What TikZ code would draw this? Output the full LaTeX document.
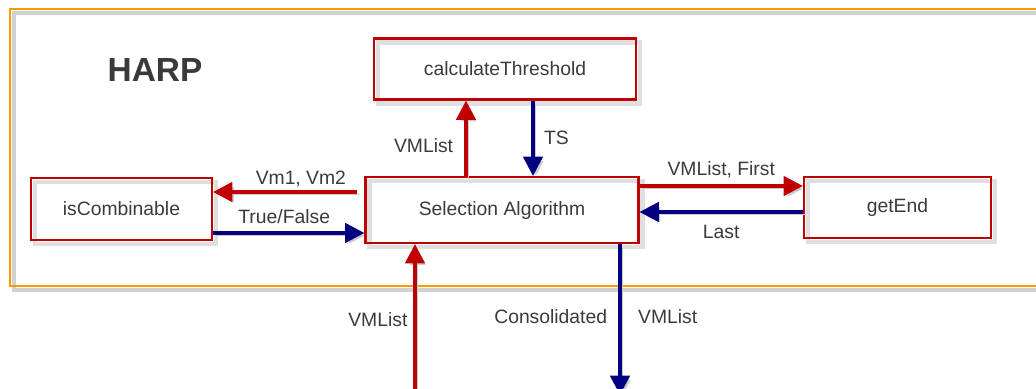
\documentclass[tikz,border=0pt]{standalone}
\usepackage{fontspec}
\setmainfont{Liberation Sans}
\usetikzlibrary{arrows.meta,shadows}
\definecolor{harpred}{HTML}{C00000}
\definecolor{harpblue}{HTML}{000080}
\definecolor{harporange}{HTML}{FF9900}
\definecolor{harptext}{HTML}{3A3A3A}
\tikzset{
  func/.style={draw=harpred, line width=1.2pt, text=harptext, font=\fontsize{11}{13}\selectfont,
    drop shadow={draw=black!25, fill=none, line width=2.6pt, shadow xshift=2.2pt, shadow yshift=-2.2pt}},
  flowshadow/.style={preaction={draw=black!20, transform canvas={shift={(1.6pt,-1.6pt)}}}},
  sendarrow/.style={draw=harpred, line width=2pt, flowshadow, -{Triangle[length=11pt,width=11pt]}},
  backarrow/.style={draw=harpblue, line width=2pt, flowshadow, -{Triangle[length=11pt,width=11pt]}},
  lbl/.style={text=harptext, font=\fontsize{11}{13}\selectfont},
}
\begin{document}
\begin{tikzpicture}[x=0.02cm, y=-0.02cm]
    \useasboundingbox (0,0) rectangle (1036,389);
    \draw[black!18, line width=2pt] (1045,13) -| (14,290) -- (1045,290);
    \draw[harporange, line width=1.2pt] (1045,9) -| (10,286) -- (1045,286);
    \node[lbl, font=\bfseries\fontsize{19}{22}\selectfont] (harp) at (155,70) {HARP};
    \node[func, minimum width=5.24cm, minimum height=1.22cm] (calc) at (505,69) {calculateThreshold};
    \node[func, minimum width=5.46cm, minimum height=1.32cm] (sel) at (502,210) {Selection Algorithm};
    \node[func, minimum width=3.62cm, minimum height=1.24cm] (comb) at (121.5,209) {isCombinable};
    \node[func, minimum width=3.74cm, minimum height=1.22cm] (getend) at (897.5,207.5) {getEnd};
    \coordinate (vmin) at (415,395);
    \coordinate (vmout) at (620,395);
    \draw[sendarrow] (sel.north -| 466,0) -- (calc.south -| 466,0)
        node[lbl, pos=0.4, left=3pt] (l1) {VMList};
    \draw[backarrow] (calc.south -| 533,0) -- (sel.north -| 533,0)
        node[lbl, midway, right=2pt] (l2) {TS};
    \draw[sendarrow, shorten <=4.5pt] (sel.west |- 0,192) -- (comb.east |- 0,192)
        node[lbl, pos=0.42, above=-1.5pt] (l3) {Vm1, Vm2};
    \draw[backarrow] (comb.east |- 0,233) -- (sel.west |- 0,233)
        node[lbl, pos=0.47, above=1pt] (l4) {True/False};
    \draw[sendarrow] (sel.east |- 0,186) -- (getend.west |- 0,186)
        node[lbl, midway, above=0pt] (l5) {VMList, First};
    \draw[backarrow] (getend.west |- 0,212) -- (sel.east |- 0,212)
        node[lbl, pos=0.5, below=3pt] (l6) {Last};
    \draw[sendarrow] (vmin) -- (sel.south -| vmin)
        node[lbl, pos=0.5, left=0pt] (l7) {VMList};
    \draw[backarrow] (sel.south -| vmout) -- (vmout)
        node[lbl, pos=0.48, left=3pt] (l8) {Consolidated}
        node[lbl, pos=0.48, right=6pt] (l9) {VMList};
\end{tikzpicture}
\end{document}
